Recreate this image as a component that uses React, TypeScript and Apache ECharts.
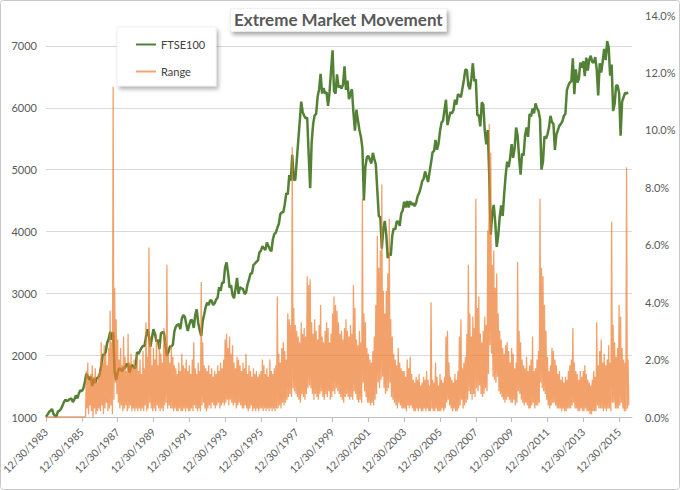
import React, { useEffect, useRef } from "react";
import * as echarts from "echarts";

const startYear = 1984;

// FTSE100 level, one value per month from Jan 1984 to Jul 2016
const ftseMonthly = [
  1000, 1040, 1080, 1100, 1130, 1050, 1020, 1010, 1090, 1100, 1130, 1180,
  1240, 1280, 1260, 1270, 1290, 1300, 1240, 1280, 1350, 1300, 1380, 1430,
  1420, 1460, 1560, 1700, 1660, 1600, 1650, 1500, 1620, 1550, 1630, 1640,
  1690, 1830, 2010, 2000, 2050, 2200, 2260, 2380, 2250, 2370, 1720, 1600,
  1720, 1790, 1770, 1740, 1800, 1790, 1860, 1850, 1720, 1820, 1840, 1790,
  1800, 2050, 2020, 2070, 2120, 2150, 2150, 2300, 2420, 2300, 2140, 2280,
  2420, 2340, 2220, 2250, 2100, 2350, 2370, 2370, 2160, 1990, 2050, 2140,
  2140, 2170, 2380, 2460, 2490, 2500, 2420, 2590, 2650, 2620, 2500, 2390,
  2490, 2570, 2560, 2440, 2650, 2740, 2520, 2400, 2310, 2550, 2660, 2780,
  2850, 2810, 2890, 2880, 2810, 2840, 2900, 2930, 3100, 3040, 3170, 3170,
  3420, 3500, 3330, 3090, 3130, 2970, 2920, 3080, 3250, 2990, 3100, 3080,
  3070, 2990, 3010, 3140, 3220, 3320, 3320, 3460, 3480, 3510, 3530, 3660,
  3690, 3760, 3730, 3700, 3820, 3770, 3710, 3680, 3870, 3960, 3980, 4060,
  4120, 4280, 4310, 4310, 4440, 4620, 4600, 4910, 4820, 5240, 4840, 4830,
  5140, 5460, 5770, 6100, 5930, 5870, 5830, 5840, 5250, 4700, 5440, 5740,
  5880, 5900, 6180, 6300, 6550, 6230, 6320, 6230, 6250, 6030, 6260, 6600,
  6930, 6270, 6230, 6540, 6330, 6360, 6310, 6370, 6670, 6290, 6440, 6140,
  6220, 6300, 5920, 5630, 5970, 5800, 5640, 5530, 5350, 4500, 5040, 5200,
  5220, 5160, 5100, 5270, 5170, 5080, 4660, 4250, 4230, 3720, 4040, 4170,
  3940, 3570, 3650, 3610, 3930, 4050, 4030, 4160, 4160, 4090, 4290, 4340,
  4480, 4390, 4490, 4390, 4490, 4430, 4460, 4410, 4460, 4570, 4620, 4700,
  4810, 4850, 4970, 4890, 4800, 4960, 5110, 5280, 5300, 5480, 5320, 5420,
  5620, 5760, 5790, 5960, 6130, 5720, 5830, 5930, 5910, 5960, 6130, 6050,
  6220, 6200, 6170, 6310, 6450, 6620, 6610, 6360, 6300, 6470, 6720, 6430,
  6460, 5880, 5880, 5700, 6090, 6050, 5630, 5410, 5640, 4900, 3950, 4290,
  4430, 4150, 3750, 3930, 4240, 4420, 4250, 4610, 4910, 5130, 5040, 5190,
  5410, 5190, 5350, 5680, 5550, 5190, 4920, 5260, 5230, 5550, 5680, 5530,
  5900, 5860, 5990, 5910, 6070, 5990, 5950, 5820, 5000, 5130, 5540, 5500,
  5570, 5680, 5870, 5770, 5740, 5320, 5570, 5640, 5710, 5740, 5780, 5870,
  5900, 6280, 6360, 6410, 6430, 6800, 6220, 6620, 6410, 6460, 6730, 6650,
  6750, 6510, 6810, 6600, 6780, 6840, 6740, 6730, 6820, 6620, 6200, 6720,
  6570, 6750, 6950, 6770, 7080, 6980, 6520, 6700, 5950, 6060, 6360, 6360,
  6240, 5550, 6100, 6170, 6240, 6230, 6250,
];

// Daily range (%), monthly highest value, Jan 1984 to Jul 2016
const rangeHigh = [
  0, 0, 0, 0, 0, 0, 0, 0, 0, 0, 0, 0,
  0, 0, 0, 0, 0, 0, 0, 0, 0, 0, 0, 0,
  0, 0, 0, 1.6, 1.9, 1.3, 1.5, 1.8, 1.4, 1.7, 1.2, 1.5,
  1.6, 2.6, 1.9, 2.5, 2.2, 1.8, 2.4, 3.7, 2.6, 11.5, 4.5, 3.4,
  2.7, 2.0, 2.4, 1.8, 2.8, 2.1, 1.6, 2.9, 1.9, 2.2, 1.7, 2.0,
  1.8, 2.2, 1.6, 2.0, 1.5, 2.3, 1.7, 3.3, 2.1, 5.9, 2.8, 1.8,
  2.4, 2.0, 2.9, 1.8, 2.6, 2.2, 1.9, 3.1, 2.7, 5.3, 2.2, 1.9,
  2.5, 2.1, 1.8, 1.7, 1.5, 1.9, 1.6, 2.2, 1.8, 1.7, 2.0, 1.6,
  1.8, 1.5, 2.0, 2.6, 1.7, 1.5, 1.9, 1.6, 4.7, 2.6, 1.8, 1.7,
  1.6, 1.8, 1.5, 1.7, 1.4, 1.6, 1.5, 1.8, 1.6, 1.9, 1.7, 2.0,
  2.7, 2.9, 2.4, 2.8, 2.2, 2.5, 1.9, 1.7, 2.1, 2.0, 1.8, 1.6,
  1.9, 1.7, 2.2, 1.5, 1.8, 1.6, 1.4, 1.7, 1.5, 1.6, 1.4, 1.5,
  1.6, 2.0, 1.8, 1.5, 1.7, 1.4, 2.0, 1.6, 1.5, 1.7, 1.8, 4.2,
  2.2, 1.9, 2.4, 2.6, 2.3, 2.0, 3.6, 3.4, 3.2, 9.4, 3.8, 3.2,
  3.0, 2.8, 2.6, 3.3, 2.9, 3.1, 2.8, 4.9, 4.6, 4.8, 3.3, 2.9,
  3.4, 3.0, 2.7, 3.2, 3.9, 2.8, 2.6, 3.0, 3.3, 3.1, 2.6, 2.9,
  3.6, 4.2, 3.9, 3.7, 3.3, 2.9, 3.0, 2.7, 3.1, 3.4, 3.0, 2.8,
  3.2, 2.9, 4.6, 3.8, 2.7, 2.5, 3.0, 2.6, 7.6, 3.6, 3.3, 2.4,
  2.2, 2.0, 1.9, 2.3, 2.8, 3.9, 6.3, 5.2, 5.8, 8.1, 4.4, 3.6,
  4.4, 5.0, 6.9, 3.4, 2.8, 2.2, 2.0, 1.8, 2.4, 1.9, 1.7, 1.6,
  1.6, 1.4, 2.0, 1.7, 2.1, 1.5, 1.3, 1.2, 1.4, 1.3, 1.5, 1.1,
  1.2, 1.4, 1.3, 1.6, 1.3, 1.1, 4.0, 1.3, 1.2, 1.9, 1.4, 1.1,
  1.5, 1.3, 1.2, 1.4, 2.8, 3.0, 1.9, 1.4, 1.3, 1.2, 1.5, 1.3,
  1.6, 2.8, 3.4, 1.7, 1.9, 2.1, 2.9, 5.3, 3.6, 2.8, 3.5, 3.1,
  7.6, 3.8, 4.2, 2.9, 2.6, 3.0, 3.5, 3.2, 6.5, 10.2, 9.2, 5.3,
  5.8, 4.5, 5.0, 3.6, 3.0, 2.7, 2.4, 2.2, 2.5, 2.6, 2.3, 1.9,
  2.4, 2.2, 1.7, 1.9, 5.4, 3.0, 2.6, 2.0, 1.8, 1.7, 2.1, 1.6,
  1.8, 2.0, 2.8, 1.6, 1.7, 2.0, 2.3, 7.6, 5.2, 4.9, 3.9, 3.0,
  2.1, 1.6, 1.8, 2.4, 2.3, 2.0, 1.8, 1.5, 1.6, 1.3, 1.4, 1.2,
  1.4, 1.3, 1.6, 1.8, 2.0, 3.1, 1.9, 1.6, 1.5, 1.3, 1.6, 1.4,
  1.6, 1.8, 1.5, 1.3, 1.2, 1.1, 1.3, 1.6, 1.4, 3.3, 1.8, 2.3,
  2.7, 1.9, 2.2, 1.8, 2.0, 2.5, 1.9, 6.8, 3.2, 2.6, 2.1, 2.4,
  3.9, 3.5, 2.4, 2.0, 1.9, 8.7, 2.0,
];

// Daily range (%), monthly lowest value, Jan 1984 to Jul 2016
const rangeLow = [
  0, 0, 0, 0, 0, 0, 0, 0, 0, 0, 0, 0,
  0, 0, 0, 0, 0, 0, 0, 0, 0, 0, 0, 0,
  0, 0, 0, 0.3, 0.1, 0.4, 0.2, 0.0, 0.3, 0.1, 0.2, 0.3,
  0.2, 0.4, 0.1, 0.3, 0.5, 0.2, 0.3, 0.4, 0.1, 0.6, 1.2, 0.8,
  0.5, 0.3, 0.4, 0.2, 0.3, 0.4, 0.2, 0.3, 0.4, 0.2, 0.3, 0.2,
  0.3, 0.2, 0.3, 0.2, 0.3, 0.2, 0.4, 0.2, 0.3, 0.5, 0.3, 0.2,
  0.3, 0.2, 0.4, 0.3, 0.2, 0.3, 0.2, 0.4, 0.5, 0.3, 0.4, 0.3,
  0.3, 0.2, 0.3, 0.2, 0.2, 0.3, 0.2, 0.2, 0.3, 0.2, 0.3, 0.2,
  0.2, 0.3, 0.2, 0.4, 0.3, 0.2, 0.3, 0.2, 0.4, 0.5, 0.3, 0.2,
  0.3, 0.4, 0.3, 0.5, 0.4, 0.3, 0.4, 0.5, 0.3, 0.4, 0.5, 0.4,
  0.5, 0.6, 0.4, 0.6, 0.5, 0.4, 0.5, 0.3, 0.4, 0.5, 0.4, 0.3,
  0.3, 0.4, 0.3, 0.2, 0.3, 0.4, 0.2, 0.3, 0.2, 0.3, 0.2, 0.3,
  0.3, 0.2, 0.3, 0.2, 0.3, 0.2, 0.3, 0.2, 0.3, 0.2, 0.3, 0.3,
  0.4, 0.3, 0.5, 0.4, 0.5, 0.6, 0.7, 0.8, 0.7, 1.0, 0.9, 0.8,
  0.7, 0.6, 0.5, 0.8, 0.7, 0.6, 0.8, 1.0, 1.1, 1.0, 0.8, 0.6,
  0.8, 0.7, 0.6, 0.8, 0.9, 0.7, 0.6, 0.8, 0.7, 0.9, 0.6, 0.7,
  0.9, 0.8, 1.0, 0.9, 0.8, 0.7, 0.6, 0.5, 0.7, 0.8, 0.7, 0.6,
  0.7, 0.6, 0.9, 0.8, 0.6, 0.5, 0.6, 0.5, 1.2, 0.9, 0.7, 0.5,
  0.5, 0.4, 0.5, 0.4, 0.6, 0.8, 1.2, 1.0, 1.3, 1.4, 1.0, 0.8,
  0.9, 1.0, 1.2, 0.7, 0.6, 0.5, 0.4, 0.3, 0.5, 0.4, 0.3, 0.3,
  0.3, 0.2, 0.4, 0.3, 0.4, 0.3, 0.2, 0.2, 0.3, 0.2, 0.3, 0.2,
  0.2, 0.3, 0.2, 0.3, 0.2, 0.2, 0.3, 0.2, 0.2, 0.3, 0.2, 0.2,
  0.2, 0.3, 0.2, 0.3, 0.5, 0.6, 0.4, 0.3, 0.2, 0.3, 0.2, 0.2,
  0.3, 0.4, 0.6, 0.3, 0.4, 0.5, 0.6, 0.9, 0.8, 0.6, 0.8, 0.7,
  1.0, 0.9, 1.1, 0.8, 0.7, 0.8, 1.0, 0.9, 1.5, 2.5, 2.2, 1.4,
  1.3, 1.2, 1.4, 0.9, 0.8, 0.7, 0.6, 0.5, 0.6, 0.7, 0.6, 0.5,
  0.5, 0.6, 0.4, 0.5, 0.9, 0.8, 0.6, 0.5, 0.4, 0.5, 0.4, 0.3,
  0.3, 0.4, 0.5, 0.3, 0.4, 0.4, 0.5, 1.2, 1.0, 0.9, 0.8, 0.6,
  0.4, 0.3, 0.4, 0.5, 0.5, 0.4, 0.3, 0.3, 0.3, 0.2, 0.3, 0.2,
  0.2, 0.3, 0.3, 0.3, 0.4, 0.5, 0.3, 0.3, 0.2, 0.2, 0.3, 0.2,
  0.2, 0.3, 0.2, 0.2, 0.1, 0.1, 0.2, 0.2, 0.2, 0.4, 0.3, 0.3,
  0.3, 0.2, 0.3, 0.2, 0.3, 0.3, 0.2, 0.5, 0.5, 0.3, 0.3, 0.3,
  0.4, 0.5, 0.3, 0.2, 0.2, 0.3, 0.4,
];

const xTickYears = [1984, 1986, 1988, 1990, 1992, 1994, 1996, 1998, 2000, 2002, 2004, 2006, 2008, 2010, 2012, 2014, 2016];
const xTickLabels = [
  "12/30/1983", "12/30/1985", "12/30/1987", "12/30/1989", "12/30/1991", "12/30/1993",
  "12/30/1995", "12/30/1997", "12/30/1999", "12/30/2001", "12/30/2003", "12/30/2005",
  "12/30/2007", "12/30/2009", "12/30/2011", "12/30/2013", "12/30/2015",
];
const leftTicks = [1000, 2000, 3000, 4000, 5000, 6000, 7000];
const rightTicks = [0, 2, 4, 6, 8, 10, 12, 14];

const FONT = "Lato, 'Open Sans', sans-serif";
const GREEN = "#538135";
const ORANGE = "#ED7D31";

export default function App() {
  const ref = useRef<HTMLDivElement>(null);

  useEffect(() => {
    document.body.style.margin = "0";
    if (!ref.current) return;
    const chart = echarts.init(ref.current, undefined, { renderer: "svg" });

    const ftseData = ftseMonthly.map((v, i) => [startYear + i / 12, v]);
    const rangeData: number[][] = [];
    rangeHigh.forEach((h, i) => {
      rangeData.push([startYear + i / 12, h]);
      rangeData.push([startYear + (i + 0.5) / 12, rangeLow[i]]);
    });

    chart.setOption({
      animation: false,
      backgroundColor: "#ffffff",
      textStyle: { fontFamily: FONT },
      title: {
        text: "Extreme Market Movement",
        left: 230,
        top: 8,
        padding: [3, 4, 4, 4],
        backgroundColor: "#ffffff",
        borderColor: "#e3e3e3",
        borderWidth: 0.5,
        shadowBlur: 4,
        shadowOffsetX: 2,
        shadowOffsetY: 3,
        shadowColor: "rgba(0,0,0,0.35)",
        textStyle: { fontFamily: FONT, fontSize: 17, fontWeight: "bold", color: "#595959" },
      },
      legend: {
        orient: "vertical",
        left: 117,
        top: 27,
        data: [
          { name: "FTSE100", icon: "rect" },
          { name: "Range", icon: "rect" },
        ],
        itemWidth: 20,
        itemHeight: 2,
        itemGap: 16,
        padding: [12, 11, 9, 19],
        backgroundColor: "#ffffff",
        borderColor: "#e3e3e3",
        borderWidth: 0.5,
        shadowBlur: 4,
        shadowOffsetX: 2,
        shadowOffsetY: 3,
        shadowColor: "rgba(0,0,0,0.3)",
        textStyle: { fontFamily: FONT, fontSize: 11, color: "#404040" },
      },
      graphic: [
        {
          type: "rect",
          silent: true,
          z: -10,
          shape: { x: 0.5, y: 0.5, width: 679, height: 489, r: 3 },
          style: { fill: "none", stroke: "#c8c8c8", lineWidth: 1 },
        },
      ],
      grid: { left: 46, right: 48, top: 15, bottom: 73, containLabel: false, outerBoundsMode: "none" },
      xAxis: {
        type: "value",
        min: 1984,
        max: 2016.72,
        axisLine: { show: true, lineStyle: { color: "#bfbfbf", width: 1 } },
        axisTick: { show: true, customValues: xTickYears, length: 5, lineStyle: { color: "#bfbfbf" } },
        splitLine: { show: false },
        axisLabel: {
          customValues: xTickYears,
          rotate: 45,
          margin: 13,
          fontFamily: FONT,
          fontSize: 10.5,
          color: "#595959",
          formatter: (v: number) => xTickLabels[xTickYears.indexOf(Math.round(v))] ?? "",
        },
      },
      yAxis: [
        {
          type: "value",
          min: 1000,
          max: 7500,
          interval: 1000,
          axisLine: { show: false },
          axisTick: { show: false, customValues: leftTicks },
          splitLine: { show: true, lineStyle: { color: "#d9d9d9", width: 1 } },
          axisLabel: {
            customValues: leftTicks,
            margin: 9,
            fontFamily: FONT,
            fontSize: 11,
            color: "#595959",
            formatter: (v: number) => String(v),
          },
        },
        {
          type: "value",
          min: 0,
          max: 14,
          interval: 2,
          position: "right",
          axisLine: { show: false },
          axisTick: { show: false },
          splitLine: { show: false },
          axisLabel: {
            customValues: rightTicks,
            margin: 13,
            fontFamily: FONT,
            fontSize: 11,
            color: "#595959",
            formatter: (v: number) => v.toFixed(1) + "%",
          },
        },
      ],
      series: [
        {
          name: "FTSE100",
          type: "line",
          yAxisIndex: 0,
          data: ftseData,
          symbol: "none",
          showSymbol: false,
          lineStyle: { color: GREEN, width: 2.5 },
          itemStyle: { color: GREEN },
          z: 2,
        },
        {
          name: "Range",
          type: "line",
          yAxisIndex: 1,
          data: rangeData,
          symbol: "none",
          showSymbol: false,
          lineStyle: { color: ORANGE, width: 1.3, opacity: 0.72 },
          itemStyle: { color: "#F2A46F" },
          z: 3,
        },
      ],
    });

    return () => chart.dispose();
  }, []);

  return <div ref={ref} style={{ width: 680, height: 490 }} />;
}
